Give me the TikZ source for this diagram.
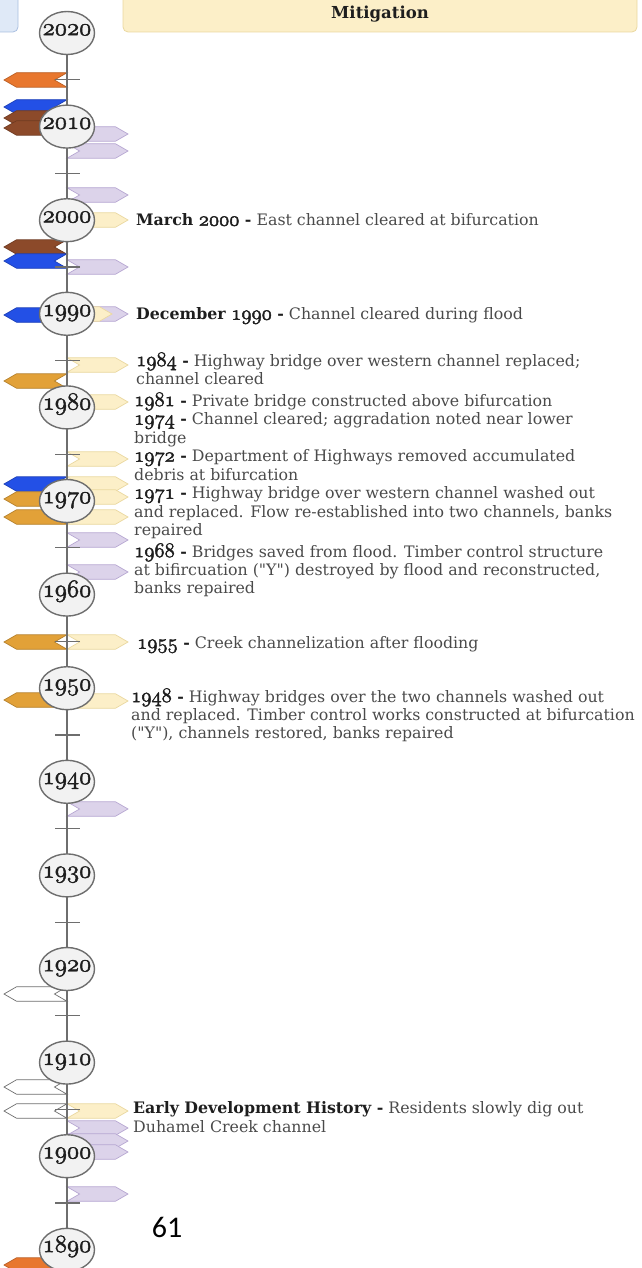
\documentclass[tikz,border=0pt]{standalone}
\usepackage{fontspec}
\usepackage{tikz}
\usetikzlibrary{shapes.geometric}
\usetikzlibrary{shapes.symbols}
\usetikzlibrary{backgrounds}

\setmainfont{DejaVu Serif}[Ligatures=TeXOff]
\newfontfamily\pagenofont{Carlito}
% old style figures taken from the LM math italic, stroked a little to look heavier
\newcommand\heavy[1]{\special{pdf:literal direct 2 Tr 0.45 w}#1\special{pdf:literal direct 0 Tr}}
\newcommand\osf[1]{{\usefont{OML}{lmm}{b}{it}\heavy{#1}}}
\newcommand\osft[1]{{\fontsize{20}{18.3}\usefont{OML}{lmm}{b}{it}\heavy{#1}}}
\newcommand\evyear[1]{\textcolor{yeartext}{\bfseries #1}}

\definecolor{axisgray}{HTML}{6E6E6E}
\definecolor{circfill}{HTML}{F2F2F2}
\definecolor{yeartext}{HTML}{1E1E1E}
\definecolor{bodytext}{HTML}{4A4A4A}
\definecolor{orangeF}{HTML}{E8772E}
\definecolor{blueF}{HTML}{2350E6}
\definecolor{brownF}{HTML}{8C4A2A}
\definecolor{goldF}{HTML}{E2A138}
\definecolor{lavF}{HTML}{DCD3EA}
\definecolor{lavD}{HTML}{B7A7D2}
\definecolor{creamF}{HTML}{FCEFC8}
\definecolor{creamD}{HTML}{EAD8A0}
\definecolor{hdrblue}{HTML}{DFE9F7}
\definecolor{hdrblueD}{HTML}{A9BFE0}

\tikzset{
  yearc/.style={ellipse, draw=axisgray, line width=1.4pt, fill=circfill,
    minimum width=55pt, minimum height=43pt, inner sep=0pt},
  flagbase/.style={signal, line width=0.7pt, minimum height=14.5pt, inner sep=0pt,
    signal pointer angle=60},
  lflag/.style={flagbase, signal to=west, signal from=east, minimum width=63pt,
    fill=#1, draw=#1!80!black},
  openflag/.style={flagbase, signal to=west, signal from=east, minimum width=63pt,
    fill=white, draw=axisgray},
  rflag/.style={flagbase, signal to=east, signal from=west, minimum width=61pt},
  lav/.style={rflag, fill=lavF, draw=lavD},
  cream/.style={rflag, fill=creamF, draw=creamD},
  event/.style={anchor=north west, inner sep=0pt, align=left, text=bodytext,
    font=\fontsize{15.8}{18.3}\selectfont},
  hdrbox/.style={rounded corners=5pt, line width=0.8pt, minimum height=44pt},
  axis/.style={draw=axisgray, line width=1.5pt},
}

\begin{document}
\begin{tikzpicture}[x=1pt, y=-1pt]
  \useasboundingbox (0,0) rectangle (641,1268);

  % header boxes
  \node[hdrbox, fill=hdrblue, draw=hdrblueD, minimum width=60pt] (hazards) at (-12,10) {};
  \node[hdrbox, fill=creamF, draw=creamD, minimum width=514pt] (mitig) at (380,10) {};
  \node[font=\fontsize{16.5}{18}\selectfont\bfseries, text=yeartext] (mitigtext) at (380,14) {Mitigation};

  % decades
  \foreach \yr [count=\i from 0] in {2020,2010,...,1890}
    \node[yearc, label={[font=\fontsize{23}{23}\selectfont, text=yeartext,
      text height=0.45em, text depth=0pt]center:\osf{\yr}}] (c\yr) at (67,{33+93.6*\i}) {};

  \begin{scope}[on background layer]
    % flags left of the axis
    \foreach \col/\y [count=\k] in {orangeF/80, blueF/107, brownF/118, brownF/128,
        brownF/247, blueF/261, blueF/315, goldF/381, blueF/484, goldF/499,
        goldF/517, goldF/642, goldF/700, orangeF/1265}
      \node[lflag=\col] (w\k) at (35.5,\y) {};
    \foreach \y [count=\k] in {994, 1087, 1111}
      \node[openflag] (o\k) at (35.5,\y) {};

    % flags right of the axis
    \foreach \y [count=\k] in {134, 151, 195, 267, 314, 540, 572, 809, 1128, 1141, 1152, 1194}
      \node[lav] (p\k) at (97.5,\y) {};
    \foreach \y [count=\k] in {220, 365, 402, 459, 484, 497, 517, 642, 701, 1111}
      \node[cream] (m\k) at (97.5,\y) {};
    \node[cream, minimum width=45pt] (m1990) at (89.5,314) {};

    % axis and half decade ticks
    \draw[axis] (c2020) -- (c1890);
    \draw[axis] (c1890.center) -- ++(0,30);
    \foreach \i in {0,...,12}
      \draw[axis, line width=1.3pt] (55,{79.8+93.6*\i}) -- (80,{79.8+93.6*\i});
  \end{scope}

  % events
  \node[event] (ev2000) at (136,213.5) {\evyear{March \osft{2000} -} East channel cleared at bifurcation};
  \node[event] (ev1990) at (136,307.5) {\evyear{December \osft{1990} -} Channel cleared during flood};
  \node[event] (ev1984) at (136,352.5) {\evyear{\osft{1984} -} Highway bridge over western channel replaced;\\channel cleared};
  \node[event] (ev1981) at (134,392.5) {\evyear{\osft{1981} -} Private bridge constructed above bifurcation};
  \node[event] (ev1974) at (134,412.5) {\evyear{\osft{1974} -} Channel cleared; aggradation noted near lower\\bridge};
  \node[event] (ev1972) at (134,449.5) {\evyear{\osft{1972} -} Department of Highways removed accumulated\\debris at bifurcation};
  \node[event] (ev1971) at (134,486.5) {\evyear{\osft{1971} -} Highway bridge over western channel washed out\\and replaced. Flow re-established into two channels, banks\\repaired};
  \node[event] (ev1968) at (134,543.5) {\evyear{\osft{1968} -} Bridges saved from flood. Timber control structure\\at bifircuation ("Y") destroyed by flood and reconstructed,\\banks repaired};
  \node[event] (ev1955) at (137,636.5) {\evyear{\osft{1955} -} Creek channelization after flooding};
  \node[event] (ev1948) at (131,688.5) {\evyear{\osft{1948} -} Highway bridges over the two channels washed out\\and replaced. Timber control works constructed at bifurcation\\("Y"), channels restored, banks repaired};
  \node[event] (evearly) at (133,1101.5) {\evyear{Early Development History -} Residents slowly dig out\\Duhamel Creek channel};

  \node[font=\pagenofont\fontsize{30}{30}\selectfont] (pageno) at (167,1227) {61};
\end{tikzpicture}
\end{document}
